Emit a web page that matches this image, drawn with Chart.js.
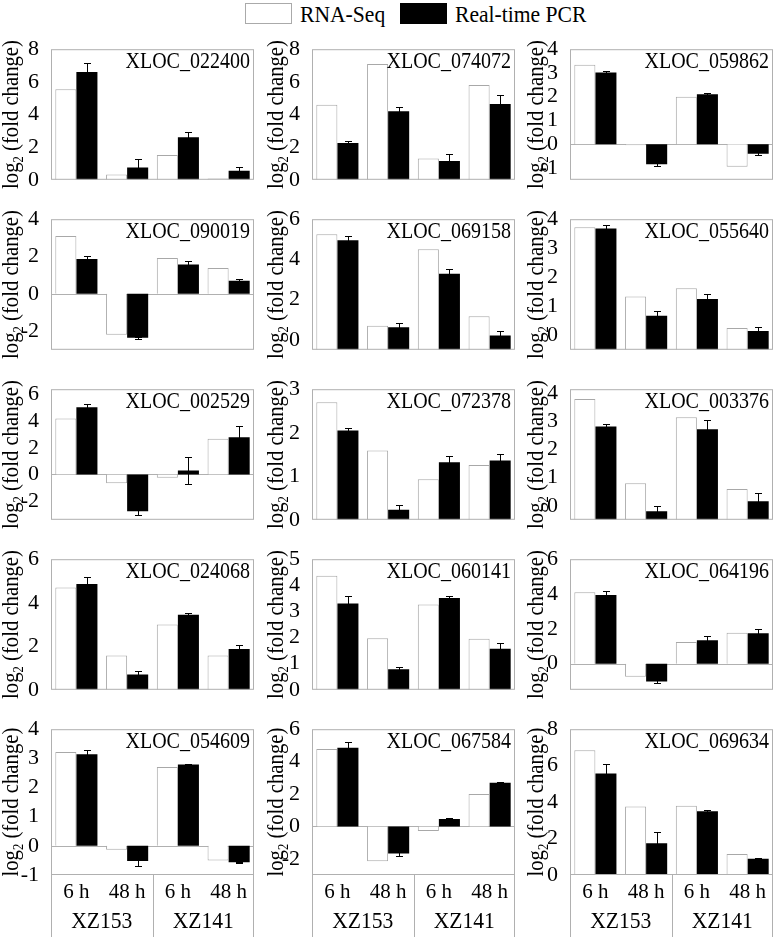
<!DOCTYPE html>
<html>
<head>
<meta charset="utf-8">
<title>RNA-Seq vs Real-time PCR</title>
<script src="https://cdn.jsdelivr.net/npm/chart.js@4.4.0/dist/chart.umd.min.js"></script>
<style>
  body { margin: 0; background: #fff; width: 781px; height: 942px; position: relative; overflow: hidden;
         font-family: "Liberation Serif", "DejaVu Serif", serif; }
  .panel { position: absolute; }
  .swatch { position: absolute; top: 3px; width: 47px; height: 21px; box-sizing: border-box; border: 1px solid #aaa; }
  .leg { position: absolute; top: 0; font-size: 24px; line-height: 28px; color: #000;
         transform: scaleX(0.9); transform-origin: left center; white-space: nowrap; }
</style>
</head>
<body>
<span class="swatch" style="left:245px;background:#fff"></span>
<span class="leg" style="left:300px">RNA-Seq</span>
<span class="swatch" style="left:400px;background:#000;border-color:#000"></span>
<span class="leg" style="left:455px">Real-time PCR</span>
<script>
// datos
const genes = ['XLOC_022400', 'XLOC_074072', 'XLOC_059862',
               'XLOC_090019', 'XLOC_069158', 'XLOC_055640',
               'XLOC_002529', 'XLOC_072378', 'XLOC_003376',
               'XLOC_024068', 'XLOC_060141', 'XLOC_064196',
               'XLOC_054609', 'XLOC_067584', 'XLOC_069634'];
const timePoints = ['6 h', '48 h', '6 h', '48 h'];
const strains = ['XZ153', 'XZ141'];

const rnaSeq = [
    [5.55, 0.32, 1.52, 0.08],
    [4.6, 7.1, 1.3, 5.8],
    [3.35, -0.05, 2.0, -0.95],
    [3.1, -2.2, 1.92, 1.38],
    [5.25, 0.7, 4.5, 1.17],
    [3.72, 1.34, 1.62, 0.25],
    [4.2, -0.65, -0.25, 2.68],
    [2.7, 1.59, 0.93, 1.26],
    [3.8, 0.8, 3.15, 0.6],
    [4.7, 1.58, 3.0, 1.58],
    [4.37, 1.97, 3.27, 1.95],
    [4.1, -0.75, 1.25, 1.78],
    [3.22, -0.13, 2.7, -0.5],
    [4.78, -2.15, -0.28, 2.0],
    [6.85, 3.76, 3.8, 1.15]
];
const pcr = [
    [6.6, 0.75, 2.6, 0.55],
    [2.25, 4.2, 1.15, 4.65],
    [3.02, -0.85, 2.1, -0.4],
    [1.87, -2.35, 1.57, 0.7],
    [4.95, 0.62, 3.29, 0.21],
    [3.68, 0.67, 1.25, 0.15],
    [5.05, -2.75, 0.3, 2.8],
    [2.05, 0.23, 1.32, 1.36],
    [2.82, -0.2, 2.72, 0.16],
    [4.86, 0.7, 3.45, 1.87],
    [3.3, 0.79, 3.51, 1.57],
    [3.95, -1.02, 1.35, 1.75],
    [3.14, -0.52, 2.79, -0.56],
    [4.85, -1.67, 0.46, 2.7],
    [5.57, 1.74, 3.5, 0.89]
];
const pcrErr = [
    [0.55, 0.5, 0.33, 0.25],
    [0.15, 0.25, 0.45, 0.55],
    [0.05, 0.08, 0.07, 0.05],
    [0.18, 0.05, 0.18, 0.12],
    [0.2, 0.23, 0.21, 0.24],
    [0.12, 0.15, 0.17, 0.12],
    [0.26, 0.3, 1.0, 0.85],
    [0.07, 0.1, 0.15, 0.16],
    [0.08, 0.2, 0.33, 0.31],
    [0.3, 0.18, 0.07, 0.2],
    [0.3, 0.08, 0.09, 0.23],
    [0.23, 0.08, 0.25, 0.25],
    [0.14, 0.18, 0.03, 0.02],
    [0.35, 0.13, 0.04, 0.05],
    [0.53, 0.63, 0.05, 0.06]
];
// ejes
const yMin  = [0, 0, -1.5,  -3, -0.5, -0.5,  -3.4, 0, -0.5,  0, 0, -1.5,  -1, -3, 0];
const yMax  = [8, 8, 4,     4, 6, 4,         6.4, 3, 4.15,   6, 5, 6,     4, 6, 8];
const yStep = [2, 2, 1,     2, 2, 1,         2, 1, 1,        2, 1, 2,     1, 2, 2];
const barBase = [0, 0, 0,   0, -0.5, -0.5,   0, 0, -0.5,     0, 0, 0,     0, 0, 0];

// layout
const colLeft = [51, 312, 570];
const rowTop = [44, 214, 384, 554, 724];
const plotW = 203, plotH = 151;
const titleGap = [38, 34, 32];
const FONT = '"Liberation Serif", "DejaVu Serif", serif';
const GRAY = '#b0b0b0';

Chart.defaults.font.family = FONT;
Chart.defaults.color = '#000';

// texto algo estrecho, como en la figura original
function narrowText(ctx, text, x, y, size, squeeze) {
    ctx.save();
    ctx.translate(x, y);
    ctx.scale(squeeze, 1);
    ctx.font = size + 'px ' + FONT;
    ctx.fillText(text, 0, 0);
    ctx.restore();
}

// marco, línea de cero, barras de error y rótulos
const panelDecor = {
    id: 'panelDecor',
    beforeDatasetsDraw(chart, args, opts) {
        const { ctx, chartArea: a, scales: { y } } = chart;
        if (opts.zeroLine) {
            const py = Math.round(y.getPixelForValue(0)) + 0.5;
            ctx.save();
            ctx.strokeStyle = GRAY;
            ctx.lineWidth = 1;
            ctx.beginPath();
            ctx.moveTo(a.left, py);
            ctx.lineTo(a.right, py);
            ctx.stroke();
            ctx.restore();
        }
    },
    afterDatasetsDraw(chart, args, opts) {
        const { ctx, chartArea: a, scales: { x, y } } = chart;
        const ds = chart.data.datasets[1];
        const meta = chart.getDatasetMeta(1);
        ctx.save();
        ctx.strokeStyle = '#000';
        ctx.lineWidth = 1;
        meta.data.forEach((bar, k) => {
            const v = ds.data[k], e = ds.errors[k];
            const px = Math.round(bar.x) + 0.5;
            const y1 = Math.round(y.getPixelForValue(v + e)) + 0.5;
            const y2 = Math.round(y.getPixelForValue(v - e)) + 0.5;
            ctx.beginPath();
            ctx.moveTo(px, y1); ctx.lineTo(px, y2);
            ctx.moveTo(px - 3.5, y1); ctx.lineTo(px + 3.5, y1);
            ctx.moveTo(px - 3.5, y2); ctx.lineTo(px + 3.5, y2);
            ctx.stroke();
        });

        // marco
        ctx.strokeStyle = GRAY;
        ctx.strokeRect(a.left + 0.5, a.top + 0.5, a.width - 1, a.height - 1);

        // nombre del gen
        ctx.fillStyle = '#000';
        ctx.textAlign = 'right';
        ctx.textBaseline = 'middle';
        narrowText(ctx, opts.gene, a.right - 4, a.top + 13, 23, 0.87);

        // título del eje y: log2 (fold change)
        const cx = a.left - opts.titleGap + 5;
        const cy = (a.top + a.bottom) / 2;
        ctx.translate(cx, cy);
        ctx.rotate(-Math.PI / 2);
        ctx.scale(0.9, 1);
        ctx.textAlign = 'left';
        ctx.textBaseline = 'alphabetic';
        const big = '23px ' + FONT, small = '14px ' + FONT;
        ctx.font = big;
        const w1 = ctx.measureText('log').width;
        const w3 = ctx.measureText(' (fold change)').width;
        ctx.font = small;
        const w2 = ctx.measureText('2').width;
        const tx = -(w1 + w2 + w3) / 2;
        ctx.font = big;
        ctx.fillText('log', tx, 0);
        ctx.font = small;
        ctx.fillText('2', tx + w1, 5);
        ctx.font = big;
        ctx.fillText(' (fold change)', tx + w1 + w2, 0);
        ctx.restore();

        // grupos de cepas bajo la última fila
        if (opts.last) {
            const mid = (x.getPixelForValue(1) + x.getPixelForValue(2)) / 2;
            ctx.save();
            ctx.strokeStyle = GRAY;
            ctx.lineWidth = 1;
            ctx.beginPath();
            [a.left, mid, a.right - 1].forEach(lx => {
                const sx = Math.round(lx) + 0.5;
                ctx.moveTo(sx, a.bottom);
                ctx.lineTo(sx, a.bottom + 62);
            });
            ctx.stroke();
            ctx.fillStyle = '#000';
            ctx.textAlign = 'center';
            ctx.textBaseline = 'middle';
            strains.forEach((s, g) => {
                const gx = (x.getPixelForValue(2 * g) + x.getPixelForValue(2 * g + 1)) / 2;
                narrowText(ctx, s, gx, a.bottom + 47, 24, 0.9);
            });
            ctx.restore();
        }
    }
};

genes.forEach((gene, i) => {
    const row = Math.floor(i / 3), col = i % 3;
    const last = row === rowTop.length - 1;
    const padTop = 12, padRight = 2, padBottom = 2, axisW = 51;
    const xAxisH = last ? 63 : 0;
    const w = axisW + plotW + padRight;
    const h = padTop + plotH + xAxisH + padBottom;

    const box = document.createElement('div');
    box.className = 'panel';
    box.style.left = (colLeft[col] - axisW) + 'px';
    box.style.top = (rowTop[row] - padTop) + 'px';
    box.style.width = w + 'px';
    box.style.height = h + 'px';
    const canvas = document.createElement('canvas');
    canvas.width = w;
    canvas.height = h;
    box.appendChild(canvas);
    document.body.appendChild(box);

    const step = yStep[i];
    new Chart(canvas, {
        type: 'bar',
        data: {
            labels: timePoints,
            datasets: [{
                label: 'RNA-Seq',
                data: rnaSeq[i],
                backgroundColor: '#fff',
                borderColor: '#a8a8a8',
                borderWidth: 1,
                base: barBase[i]
            }, {
                label: 'Real-time PCR',
                data: pcr[i],
                errors: pcrErr[i],
                backgroundColor: '#000',
                borderColor: '#000',
                borderWidth: 0,
                base: barBase[i]
            }]
        },
        options: {
            responsive: false,
            animation: false,
            devicePixelRatio: 1,
            layout: { padding: { top: padTop, right: padRight, bottom: padBottom, left: 0 } },
            datasets: { bar: { categoryPercentage: 0.83, barPercentage: 1 } },
            plugins: {
                legend: { display: false },
                tooltip: { enabled: false },
                panelDecor: {
                    gene: gene,
                    titleGap: titleGap[col],
                    last: last,
                    zeroLine: yMin[i] < 0 && barBase[i] === 0
                }
            },
            scales: {
                x: {
                    display: last,
                    grid: { display: false },
                    border: { display: false },
                    ticks: { font: { size: 21 }, color: '#000', padding: -3, maxRotation: 0, autoSkip: false },
                    afterFit: s => { s.height = xAxisH; }
                },
                y: {
                    min: yMin[i],
                    max: yMax[i],
                    grid: { display: false },
                    border: { display: false },
                    ticks: {
                        stepSize: step,
                        includeBounds: false,
                        autoSkip: false,
                        font: { size: 22 },
                        color: '#000',
                        padding: 4,
                        callback: v => Math.abs(v / step - Math.round(v / step)) < 1e-6 ? Math.round(v) : null
                    },
                    afterFit: s => { s.width = axisW; }
                }
            }
        },
        plugins: [panelDecor]
    });
});
</script>
</body>
</html>
